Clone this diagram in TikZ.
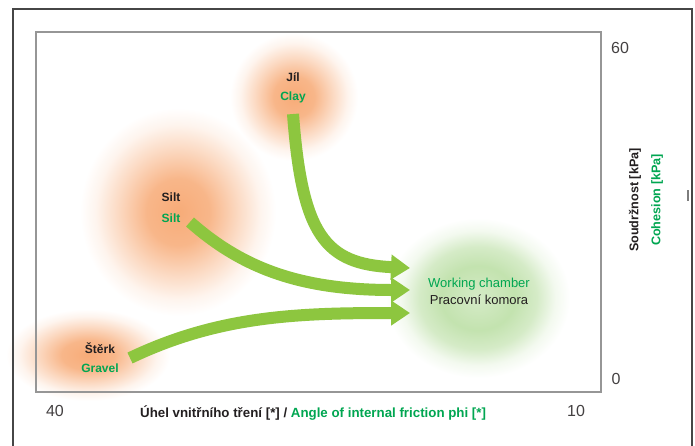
\documentclass[tikz,border=0pt]{standalone}
\usepackage{fontspec}
\setmainfont{Liberation Sans}
\usetikzlibrary{arrows.meta}
\definecolor{arrowgreen}{RGB}{141,198,63}
\definecolor{txtgreen}{RGB}{0,166,81}
\definecolor{txtblack}{RGB}{35,31,32}
\definecolor{blobor}{RGB}{245,148,82}
\definecolor{blobgr}{RGB}{135,198,95}
\definecolor{framegray}{RGB}{150,150,150}
\definecolor{outergray}{RGB}{70,70,70}
\pgfdeclareradialshading{orangeblob}{\pgfpoint{0bp}{0bp}}{color(0bp)=(blobor!78); color(8bp)=(blobor!68); color(15bp)=(blobor!36); color(21bp)=(blobor!10); color(25bp)=(white); color(50bp)=(white)}
\pgfdeclareradialshading{greenblob}{\pgfpoint{0bp}{0bp}}{color(0bp)=(blobgr!35); color(10bp)=(blobgr!50); color(16bp)=(blobgr!35); color(21bp)=(blobgr!10); color(25bp)=(white); color(50bp)=(white)}
\tikzset{
  flow/.style={line width=12pt, draw=arrowgreen, -{Triangle[length=19pt,width=24pt]}},
  soilname/.style={font=\bfseries\fontsize{12pt}{14pt}\selectfont, text=txtblack, inner sep=0pt},
  soilen/.style={font=\bfseries\fontsize{12pt}{14pt}\selectfont, text=txtgreen, inner sep=0pt},
  ticklab/.style={font=\fontsize{16pt}{18pt}\selectfont, text=txtblack!85, inner sep=0pt},
  axlab/.style={font=\bfseries\fontsize{12.6pt}{14pt}\selectfont, inner sep=0pt},
  xaxlab/.style={font=\bfseries\fontsize{13.3pt}{15pt}\selectfont, inner sep=0pt},
}
\begin{document}
\begin{tikzpicture}[x=1pt,y=-1pt]
\useasboundingbox (0,0) rectangle (695,445);
\fill[white] (0,0) rectangle (695,445);
% blobs
\shade[shading=greenblob] (478,298) ellipse [x radius=92, y radius=80];
\shade[shading=orangeblob] (178,212) ellipse [x radius=98, y radius=104];
\shade[shading=orangeblob] (294,97) ellipse [x radius=64, y radius=64];
\shade[shading=orangeblob] (88,355) ellipse [x radius=82, y radius=46];
% outer frame
\draw[outergray, line width=1.2pt] (13,450) -- (13,9) -- (692,9) -- (692,450);
\draw[outergray!70, line width=1.5pt] (688,190) -- (688,201);
% inner plot box
\draw[framegray, line width=1.6pt] (36,32) rectangle (601,392);
% labels
\node[soilname] (jil) at (293,77) {Jíl};
\node[soilen] (clay) at (293,97) {Clay};
\node[soilname] (silt) at (171,197) {Silt};
\node[soilen] (silten) at (171,218) {Silt};
\node[soilname] (sterk) at (100,348) {Štěrk};
\node[soilen] (gravel) at (100,368) {Gravel};
\node[font=\fontsize{13pt}{15pt}\selectfont, text=txtgreen, inner sep=0pt] (wc) at (479,284) {Working chamber};
\node[font=\fontsize{13pt}{15pt}\selectfont, text=txtblack, inner sep=0pt] (pk) at (479,300) {Pracovní komora};
% arrow anchors
\coordinate (cs) at (293,114);
\coordinate (ss) at (190,222);
\coordinate (gs) at (130,358);
\coordinate (ce) at (410,268);
\coordinate (se) at (410,290);
\coordinate (ge) at (410,313);
\draw[flow] (cs) .. controls (302,235) and (325,264) .. (ce);
\draw[flow] (ss) .. controls (242,268) and (300,290) .. (se);
\draw[flow] (gs) .. controls (220,315) and (300,313) .. (ge);
% axis ticks
\node[ticklab] (t60) at (620,48) {60};
\node[ticklab] (t0) at (616,379) {0};
\node[ticklab] (t40) at (55,411) {40};
\node[ticklab] (t10) at (576,411) {10};
% axis labels
\node[xaxlab, text=txtblack, anchor=west] (xl) at (140,413) {Úhel vnitřního tření [*] / \textcolor{txtgreen}{Angle of internal friction phi [*]}};
\node[axlab, text=txtblack, rotate=90] (yl1) at (635,200) {Soudržnost [kPa]};
\node[axlab, text=txtgreen, rotate=90] (yl2) at (657,200) {Cohesion [kPa]};
\end{tikzpicture}
\end{document}
